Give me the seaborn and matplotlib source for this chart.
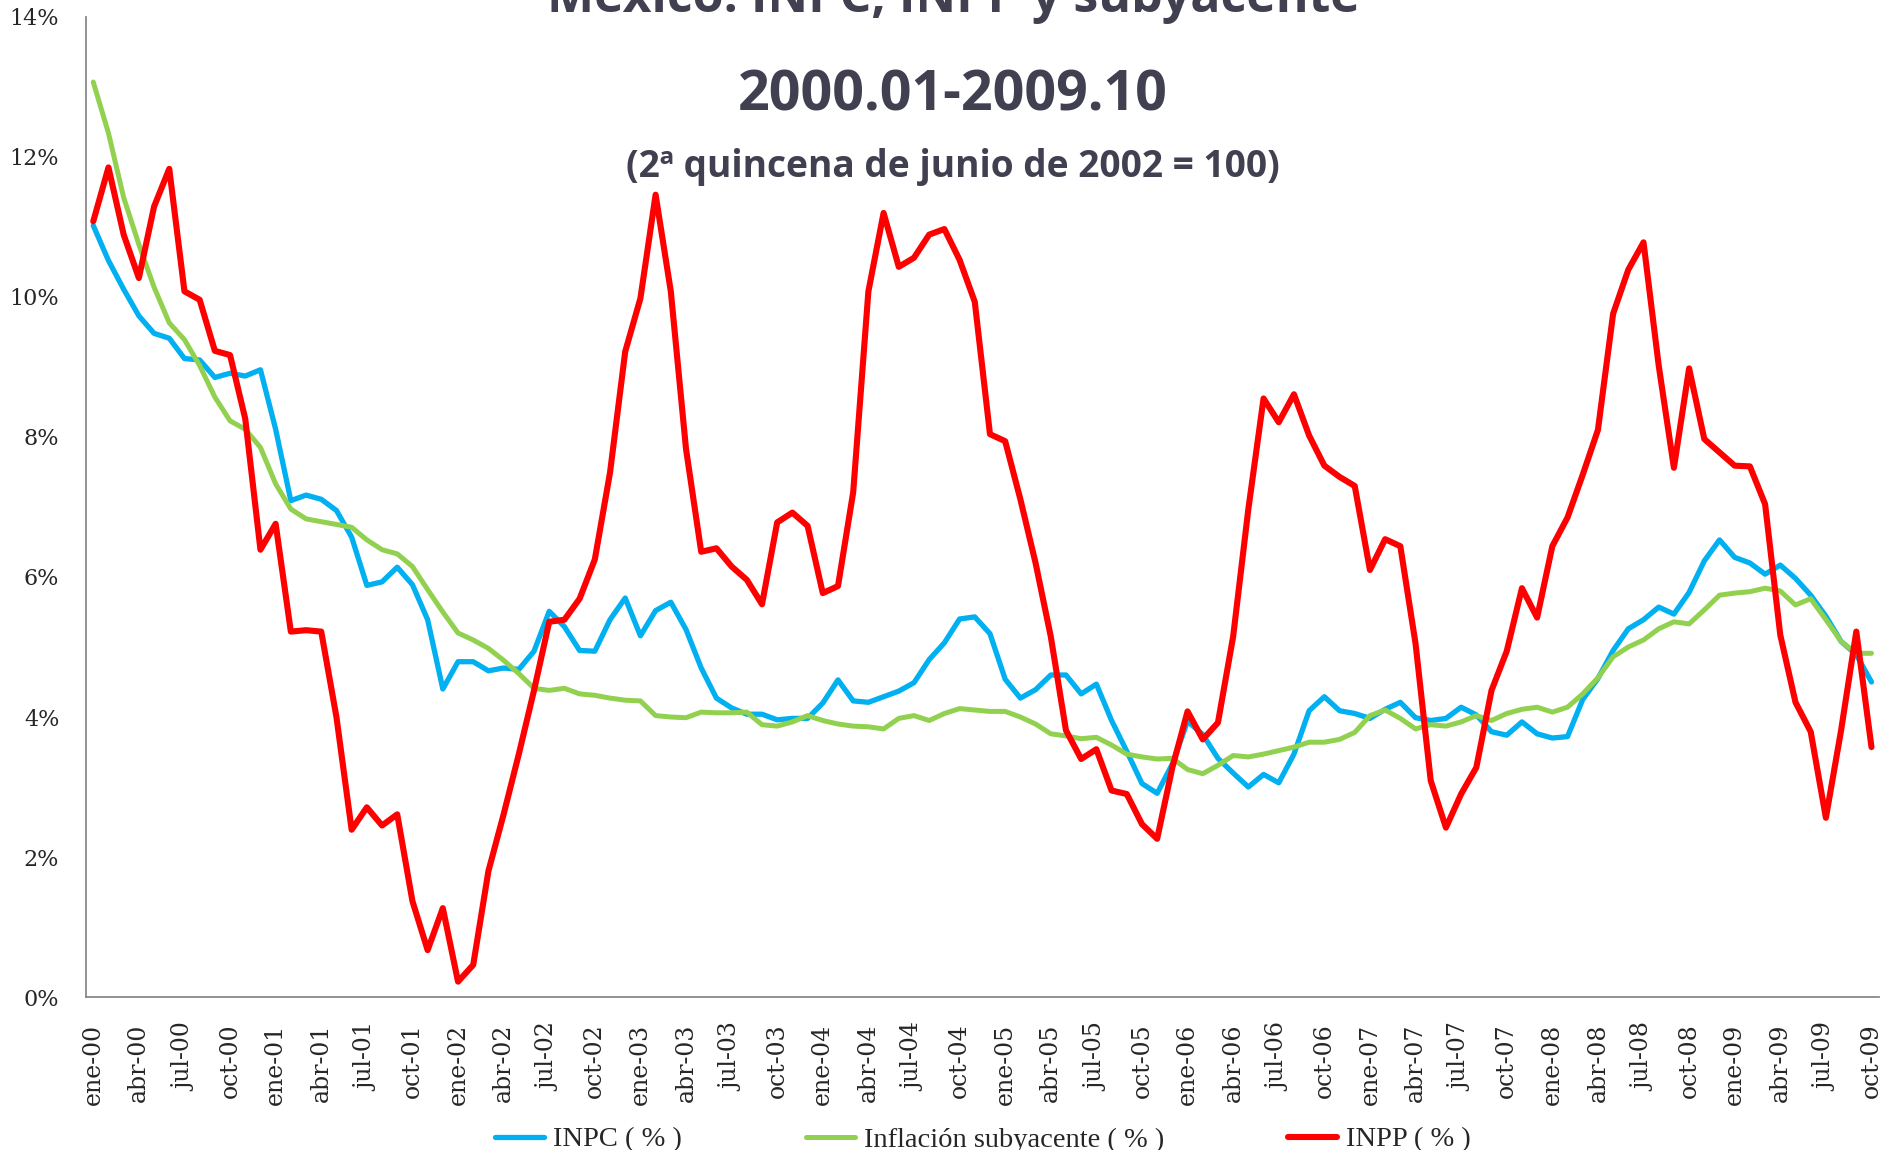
import numpy as np
import pandas as pd
import matplotlib
matplotlib.use("Agg")
import matplotlib.pyplot as plt
import seaborn as sns

# series mensuales ene-2000 .. oct-2009 (variacion anual, %)
inpc = [11.02, 10.52, 10.11, 9.73, 9.48, 9.41, 9.12, 9.10, 8.85, 8.91, 8.87, 8.96,
        8.11, 7.09, 7.17, 7.11, 6.95, 6.57, 5.88, 5.93, 6.14, 5.89, 5.39, 4.40,
        4.79, 4.79, 4.66, 4.70, 4.68, 4.94, 5.51, 5.29, 4.95, 4.94, 5.39, 5.70,
        5.16, 5.52, 5.64, 5.25, 4.70, 4.27, 4.13, 4.04, 4.04, 3.96, 3.98, 3.98,
        4.20, 4.53, 4.23, 4.21, 4.29, 4.37, 4.49, 4.82, 5.06, 5.40, 5.43, 5.19,
        4.54, 4.27, 4.39, 4.60, 4.60, 4.33, 4.47, 3.95, 3.51, 3.05, 2.91, 3.33,
        3.94, 3.75, 3.41, 3.20, 3.00, 3.18, 3.06, 3.47, 4.09, 4.29, 4.09, 4.05,
        3.98, 4.11, 4.21, 3.99, 3.95, 3.98, 4.14, 4.03, 3.79, 3.74, 3.93, 3.76,
        3.70, 3.72, 4.25, 4.55, 4.95, 5.26, 5.39, 5.57, 5.47, 5.78, 6.23, 6.53,
        6.28, 6.20, 6.04, 6.17, 5.98, 5.74, 5.44, 5.08, 4.89, 4.50]

subyacente = [13.07, 12.34, 11.42, 10.75, 10.14, 9.63, 9.39, 9.02, 8.57, 8.23, 8.11, 7.85,
              7.33, 6.97, 6.83, 6.79, 6.75, 6.71, 6.53, 6.39, 6.33, 6.15, 5.82, 5.50,
              5.20, 5.10, 4.98, 4.81, 4.62, 4.41, 4.38, 4.41, 4.33, 4.31, 4.27, 4.24,
              4.23, 4.02, 4.00, 3.99, 4.07, 4.06, 4.06, 4.07, 3.89, 3.87, 3.93, 4.02,
              3.95, 3.90, 3.87, 3.86, 3.83, 3.98, 4.02, 3.95, 4.05, 4.12, 4.10, 4.08,
              4.08, 4.00, 3.90, 3.76, 3.73, 3.69, 3.71, 3.60, 3.47, 3.43, 3.40, 3.41,
              3.25, 3.19, 3.31, 3.45, 3.43, 3.47, 3.52, 3.57, 3.64, 3.64, 3.68, 3.78,
              4.02, 4.10, 3.98, 3.83, 3.89, 3.87, 3.93, 4.02, 3.95, 4.05, 4.11, 4.14,
              4.07, 4.14, 4.33, 4.56, 4.86, 5.00, 5.10, 5.26, 5.36, 5.33, 5.53, 5.74,
              5.77, 5.79, 5.84, 5.80, 5.60, 5.69, 5.39, 5.08, 4.91, 4.91]

inpp = [11.08, 11.85, 10.89, 10.27, 11.29, 11.83, 10.08, 9.96, 9.23, 9.17, 8.26, 6.39,
        6.76, 5.22, 5.24, 5.22, 4.00, 2.39, 2.71, 2.45, 2.61, 1.37, 0.67, 1.27,
        0.22, 0.46, 1.80, 2.61, 3.47, 4.38, 5.36, 5.39, 5.69, 6.25, 7.49, 9.22,
        9.98, 11.46, 10.08, 7.83, 6.36, 6.41, 6.15, 5.96, 5.61, 6.78, 6.92, 6.73,
        5.77, 5.87, 7.21, 10.08, 11.20, 10.43, 10.56, 10.89, 10.97, 10.53, 9.93, 8.04,
        7.94, 7.11, 6.20, 5.15, 3.81, 3.40, 3.54, 2.95, 2.90, 2.47, 2.26, 3.28,
        4.08, 3.68, 3.92, 5.15, 6.97, 8.55, 8.21, 8.61, 8.02, 7.59, 7.43, 7.30,
        6.10, 6.54, 6.44, 5.05, 3.09, 2.42, 2.90, 3.28, 4.38, 4.94, 5.84, 5.42,
        6.44, 6.85, 7.46, 8.10, 9.76, 10.39, 10.78, 9.02, 7.56, 8.98, 7.97, 7.78,
        7.59, 7.58, 7.04, 5.17, 4.21, 3.79, 2.56, 3.81, 5.22, 3.57]

meses = ["ene", "feb", "mar", "abr", "may", "jun", "jul", "ago", "sep", "oct", "nov", "dic"]
fechas = [f"{meses[i % 12]}-{i // 12:02d}" for i in range(len(inpc))]

df = pd.DataFrame({"mes": np.arange(len(inpc)), "inpc": inpc,
                   "sub": subyacente, "inpp": inpp})

sns.set_style("white")
plt.rcParams["font.family"] = ["DejaVu Serif"]

fig = plt.figure(figsize=(18.91, 11.5), dpi=100)
ax = fig.add_axes([0.0453, 0.133, 0.9484, 0.8523])

estilo = dict(solid_joinstyle="round", solid_capstyle="round")
sns.lineplot(data=df, x="mes", y="inpc", color="#00B0F0", lw=3.8, label="INPC ( % )", ax=ax, **estilo)
sns.lineplot(data=df, x="mes", y="sub", color="#92D050", lw=3.6, label="Inflación subyacente ( % )", ax=ax, **estilo)
sns.lineplot(data=df, x="mes", y="inpp", color="#FF0000", lw=4.4, label="INPP ( % )", ax=ax, **estilo)

ax.set_xlim(-0.5, len(inpc) - 0.5)
ax.set_ylim(0, 14)
ax.set_xlabel("")
ax.set_ylabel("")

# marcas entre categorias, etiquetas en el centro
ax.set_xticks(np.arange(-0.5, len(inpc), 3))
ax.set_xticklabels([])
ax.set_xticks(np.arange(0, len(inpc), 3), [fechas[i] for i in range(0, len(inpc), 3)], minor=True)
ax.tick_params(axis="x", which="major", length=6, width=1.2, color="#898989", direction="out")
ax.tick_params(axis="x", which="minor", length=0, pad=19, labelsize=17, labelrotation=90)

ax.set_yticks(range(0, 15, 2), [f"{v}%" for v in range(0, 15, 2)])
ax.tick_params(axis="y", length=6, width=1.2, color="#898989", pad=13, labelsize=16, direction="out")

for s in ["top", "right"]:
    ax.spines[s].set_visible(False)
for s in ["left", "bottom"]:
    ax.spines[s].set_color("#898989")
    ax.spines[s].set_linewidth(1.3)

ax.get_legend().remove()
h, l = ax.get_legend_handles_labels()
fig.legend(h, l, loc="center", bbox_to_anchor=(0.52, 0.009), ncol=3, frameon=False,
           prop={"family": "Liberation Serif", "size": 20.5}, handlelength=1.7,
           handletextpad=0.34, columnspacing=4.35)

tcol = "#404050"
fig.text(0.504, 0.9896, "México: INPC, INPP y subyacente", ha="center", va="baseline",
         family="Open Sans", weight="bold", size=36, color=tcol)
fig.text(0.504, 0.9035, "2000.01-2009.10", ha="center", va="baseline",
         family="Open Sans", weight="bold", size=40, color=tcol)
fig.text(0.504, 0.846, "(2ª quincena de junio de 2002 = 100)", ha="center", va="baseline",
         family="Open Sans", weight="bold", size=26.7, color=tcol)

fig.savefig("out.png", dpi=100)
